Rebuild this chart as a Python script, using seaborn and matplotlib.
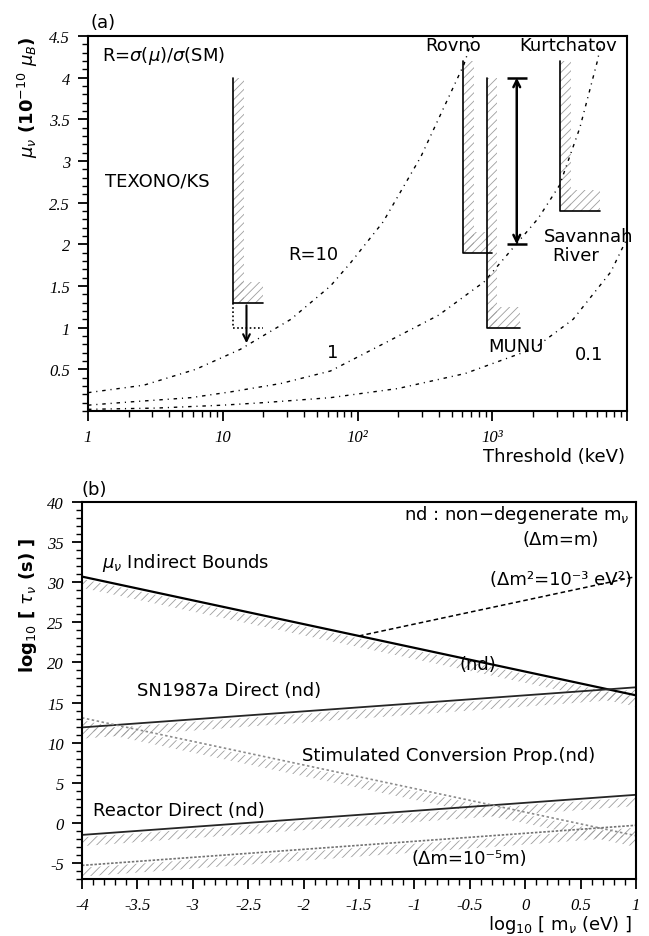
import matplotlib
matplotlib.use("Agg")
import matplotlib.pyplot as plt
import matplotlib.ticker as mticker
import seaborn as sns

# ---------------- panel (a): mu_nu limit vs detector threshold ----------------
# R = sigma(mu)/sigma(SM) contours, threshold in keV
r10_thr = [1, 2.6, 6.3, 13.5, 32, 63, 89, 155, 295, 617, 724]
r10_mu = [0.22, 0.31, 0.50, 0.74, 1.10, 1.50, 1.78, 2.27, 3.05, 4.16, 4.5]
r1_thr = [1, 2.1, 5.8, 11.5, 27, 63, 166, 400, 870, 2190, 3160, 4470, 6030, 6600]
r1_mu = [0.07, 0.11, 0.16, 0.23, 0.33, 0.48, 0.83, 1.15, 1.55, 2.31, 2.71, 3.4, 4.2, 4.5]
r01_thr = [1, 3.2, 10, 20, 63, 200, 630, 2040, 3980, 7590, 10000]
r01_mu = [0.02, 0.035, 0.07, 0.10, 0.16, 0.27, 0.45, 0.75, 1.1, 1.67, 2.07]

# reactor experiments: threshold, end of plateau, top of drawn line, limit
exp_names = ["TEXONO/KS", "Rovno", "MUNU", "Kurtchatov"]
exp_thr = [12, 610, 910, 3200]
exp_end = [20, 1000, 1600, 6300]
exp_top = [4.0, 4.2, 4.0, 4.2]
exp_limit = [1.3, 1.9, 1.0, 2.4]

texono_goal = 1.0          # projected sensitivity (dotted)
texono_arrow_x = 15
texono_arrow_to = 0.78
savannah_x = 1520
savannah_range = [2.0, 4.0]
savannah_cap = [1290, 1800]

thr_ticks = [1, 10, 100, 1000, 10000]
thr_ticklabels = ["1", "10", "10\u00b2", "10\u00b3", ""]

# ---------------- panel (b): lifetime bounds vs neutrino mass ----------------
logm = [-4, 1]
indirect = [30.7, 15.9]
sn1987a = [11.9, 16.9]
stimulated = [13.1, -1.6]
reactor = [-1.5, 3.5]
dm_small = [-5.3, -0.3]
dm2_logm = [-1.5, 1]
dm2_tau = [23.3, 30.7]

sns.set_theme(style="ticks")
plt.rcParams["font.family"] = ["DejaVu Sans"]
plt.rcParams["axes.unicode_minus"] = False
plt.rcParams["hatch.linewidth"] = 0.6
for k in ["text.color", "axes.labelcolor", "xtick.color", "ytick.color", "axes.edgecolor"]:
    plt.rcParams[k] = "black"

fig = plt.figure(figsize=(6.49, 9.37), dpi=100)
ax1 = fig.add_axes([0.1356, 0.5603, 0.8305, 0.4002])
ax2 = fig.add_axes([0.1263, 0.0608, 0.8536, 0.4024])

txt = 13
hatch_col = "0.62"


def style_axis(ax):
    for s in ax.spines.values():
        s.set_linewidth(1.5)
        s.set_color("black")
    ax.tick_params(which="major", direction="out", length=7, width=1.3, pad=6, labelsize=12)
    ax.tick_params(which="minor", direction="out", length=4, width=1.0)
    ax.tick_params(top=False, right=False)
    for lab in ax.get_xticklabels() + ax.get_yticklabels():
        lab.set_fontfamily("Liberation Serif")
        lab.set_fontstyle("italic")


# ---- panel (a) ----
dashdot = (0, (2.5, 3.5, 0.8, 3.5))
for xs, ys in [(r10_thr, r10_mu), (r1_thr, r1_mu), (r01_thr, r01_mu)]:
    sns.lineplot(x=xs, y=ys, ax=ax1, color="black", lw=1.0, linestyle=dashdot,
                 sort=False, errorbar=None)

for thr, end, top, lim in zip(exp_thr, exp_end, exp_top, exp_limit):
    ax1.fill_betweenx([lim, top], thr, thr * 1.2, facecolor="none",
                      edgecolor=hatch_col, hatch="////", lw=0)
    ax1.fill_between([thr, end], lim, lim + 0.25, facecolor="none",
                     edgecolor=hatch_col, hatch="////", lw=0)
    ax1.plot([thr, thr, end], [top, lim, lim], color="black", lw=1.2)

# TEXONO projected sensitivity
ax1.plot([exp_thr[0], exp_thr[0], exp_end[0]], [exp_limit[0], texono_goal, texono_goal],
         color="black", lw=1.2, linestyle=(0, (1, 1.5)))
ax1.annotate("", xy=(texono_arrow_x, texono_arrow_to), xytext=(texono_arrow_x, exp_limit[0]),
             arrowprops=dict(arrowstyle="->", lw=1.5, color="black"))

# Savannah River range
ax1.annotate("", xy=(savannah_x, savannah_range[1]), xytext=(savannah_x, savannah_range[0]),
             arrowprops=dict(arrowstyle="<->", lw=1.8, color="black", shrinkA=0, shrinkB=0))
ax1.hlines(savannah_range, savannah_cap[0], savannah_cap[1], color="black", lw=1.8)

ax1.set_xscale("log")
ax1.set_xlim(1, 10000)
ax1.set_ylim(0, 4.5)
ax1.xaxis.set_major_locator(mticker.FixedLocator(thr_ticks))
ax1.xaxis.set_major_formatter(mticker.FixedFormatter(thr_ticklabels))
ax1.xaxis.set_minor_locator(mticker.LogLocator(base=10, subs=range(2, 10)))
ax1.xaxis.set_minor_formatter(mticker.NullFormatter())
ax1.yaxis.set_major_locator(mticker.FixedLocator([0.5, 1, 1.5, 2, 2.5, 3, 3.5, 4, 4.5]))
ax1.yaxis.set_major_formatter(mticker.FormatStrFormatter("%g"))
ax1.yaxis.set_minor_locator(mticker.MultipleLocator(0.1))
ax1.set_xlabel("")
ax1.set_ylabel("")
style_axis(ax1)

ax1.text(1.27, 4.27, r"R=$\sigma$($\mu$)/$\sigma$(SM)", fontsize=txt, va="center")
ax1.text(1.34, 2.77, exp_names[0], fontsize=txt, va="center")
ax1.text(30.7, 1.89, "R=10", fontsize=txt, va="center")
ax1.text(66, 0.71, "1", fontsize=txt, va="center", ha="center")
ax1.text(5200, 0.69, "0.1", fontsize=txt, va="center", ha="center")
ax1.text(927, 0.78, exp_names[2], fontsize=txt, va="center")
ax1.text(510, 4.39, exp_names[1], fontsize=txt, va="center", ha="center")
ax1.text(3650, 4.39, exp_names[3], fontsize=txt, va="center", ha="center")
ax1.text(5200, 2.10, "Savannah", fontsize=txt, va="center", ha="center")
ax1.text(4170, 1.87, "River", fontsize=txt, va="center", ha="center")
ax1.text(0.028, 1.037, "(a)", transform=ax1.transAxes, fontsize=txt, ha="center", va="center")
ax1.text(-0.111, 0.84, r"$\mu_\nu$ (10$^{-10}$ $\mu_B$)", transform=ax1.transAxes,
         fontsize=13, fontweight="bold", rotation=90, ha="center", va="center")
ax1.text(0.996, -0.12, "Threshold (keV)", transform=ax1.transAxes, fontsize=txt,
         ha="right", va="center")

# ---- panel (b) ----
bands = [(logm, indirect, "black", "-", 1.6),
         (logm, sn1987a, "0.15", "-", 1.3),
         (logm, reactor, "0.15", "-", 1.3),
         (logm, stimulated, "0.55", (0, (1.5, 1.5)), 1.2),
         (logm, dm_small, "0.45", (0, (1.5, 1.0)), 1.2)]
for xs, ys, col, ls, lw in bands:
    ax2.fill_between(xs, [v - 1.4 for v in ys], [v - 0.3 for v in ys], facecolor="none",
                     edgecolor=hatch_col, hatch="////", lw=0)
    sns.lineplot(x=xs, y=ys, ax=ax2, color=col, lw=lw, linestyle=ls, errorbar=None)
sns.lineplot(x=dm2_logm, y=dm2_tau, ax=ax2, color="black", lw=1.1,
             linestyle=(0, (3, 2)), errorbar=None)

ax2.set_xlim(-4, 1)
ax2.set_ylim(-7, 40)
ax2.xaxis.set_major_locator(mticker.MultipleLocator(0.5))
ax2.xaxis.set_minor_locator(mticker.MultipleLocator(0.1))
ax2.xaxis.set_major_formatter(mticker.FormatStrFormatter("%g"))
ax2.yaxis.set_major_locator(mticker.MultipleLocator(5))
ax2.yaxis.set_minor_locator(mticker.MultipleLocator(1))
ax2.yaxis.set_major_formatter(mticker.FormatStrFormatter("%g"))
ax2.set_xlabel("")
ax2.set_ylabel("")
style_axis(ax2)

ax2.text(-3.82, 32.5, r"$\mu_\nu$ Indirect Bounds", fontsize=txt, va="center")
ax2.text(0.94, 38.5, r"nd : non$-$degenerate m$_\nu$", fontsize=txt, va="center", ha="right")
ax2.text(0.32, 35.4, "(\u0394m=m)", fontsize=txt, va="center", ha="center")
ax2.text(0.32, 30.4, "(\u0394m\u00b2=10\u207b\u00b3 eV\u00b2)", fontsize=txt, va="center", ha="center")
ax2.text(-0.43, 19.75, "(nd)", fontsize=txt, va="center", ha="center")
ax2.text(-3.50, 16.6, "SN1987a Direct (nd)", fontsize=txt, va="center")
ax2.text(-2.01, 8.5, "Stimulated Conversion Prop.(nd)", fontsize=txt, va="center")
ax2.text(-3.90, 1.6, "Reactor Direct (nd)", fontsize=txt, va="center")
ax2.text(-0.5, -4.4, "(\u0394m=10\u207b\u2075m)", fontsize=txt, va="center", ha="center")
ax2.text(0.023, 1.034, "(b)", transform=ax2.transAxes, fontsize=txt, ha="center", va="center")
ax2.text(-0.097, 0.73, r"log$_{10}$ [ $\tau_\nu$ (s) ]", transform=ax2.transAxes,
         fontsize=13, fontweight="bold", rotation=90, ha="center", va="center")
ax2.text(0.993, -0.12, r"log$_{10}$ [ m$_\nu$ (eV) ]", transform=ax2.transAxes,
         fontsize=13, ha="right", va="center")

fig.savefig("out.png", dpi=100)
